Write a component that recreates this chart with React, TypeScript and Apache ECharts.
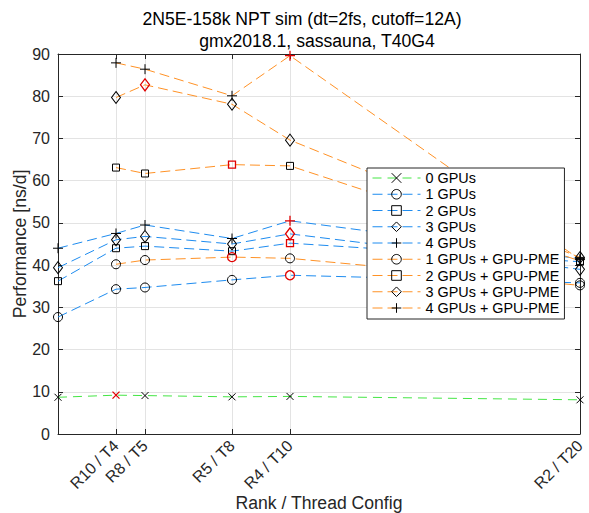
import React, { useEffect, useRef } from "react";
import * as echarts from "echarts";

// x positions (thread count per rank)
const threadsAll = [2, 4, 5, 8, 10, 20];
const threadsPme = [4, 5, 8, 10, 20];
const tickThreads = [4, 5, 8, 10, 20];
const tickLabels = ["R10 / T4", "R8 / T5", "R5 / T8", "R4 / T10", "R2 / T20"];

// Performance [ns/d]
const gpu0 = [8.7, 9.2, 9.1, 8.8, 8.9, 8.1];
const gpu1 = [27.7, 34.3, 34.7, 36.5, 37.6, 35.8];
const gpu2 = [36.2, 44.0, 44.5, 43.3, 45.2, 40.8];
const gpu3 = [39.4, 46.0, 46.8, 45.0, 47.4, 39.0];
const gpu4 = [44.0, 47.5, 49.5, 46.3, 50.5, 41.5];
const pme1 = [40.2, 41.2, 41.9, 41.6, 35.2];
const pme2 = [63.1, 61.7, 63.8, 63.5, 41.0];
const pme3 = [79.7, 82.7, 78.1, 69.6, 41.8];
const pme4 = [87.9, 86.4, 80.1, 89.6, 41.3];

const seriesNames = [
  "0 GPUs",
  "1 GPUs",
  "2 GPUs",
  "3 GPUs",
  "4 GPUs",
  "1 GPUs + GPU-PME",
  "2 GPUs + GPU-PME",
  "3 GPUs + GPU-PME",
  "4 GPUs + GPU-PME",
];

const yTicksMin = 0;
const yTicksMax = 90;
const yTickStep = 10;
const xMin = 2;
const xMax = 20;

const FONT = '"Liberation Sans", Arial, Helvetica, sans-serif';
const GREEN = "#45e645";
const BLUE = "#1e8cf0";
const ORANGE = "#ff9226";
const RED = "#e00000";

const SYM_X = "path://M0,0L10,10M10,0L0,10";
const SYM_PLUS = "path://M5,0L5,10M0,5L10,5";

type Def = {
  name: string;
  xs: number[];
  ys: number[];
  color: string;
  symbol: string;
  size: number | number[];
  dash: number[];
};

const defs: Def[] = [
  { name: seriesNames[0], xs: threadsAll, ys: gpu0, color: GREEN, symbol: SYM_X, size: 7, dash: [9, 6] },
  { name: seriesNames[1], xs: threadsAll, ys: gpu1, color: BLUE, symbol: "circle", size: 9, dash: [10, 5] },
  { name: seriesNames[2], xs: threadsAll, ys: gpu2, color: BLUE, symbol: "rect", size: 7, dash: [10, 5] },
  { name: seriesNames[3], xs: threadsAll, ys: gpu3, color: BLUE, symbol: "diamond", size: [9, 12], dash: [10, 5] },
  { name: seriesNames[4], xs: threadsAll, ys: gpu4, color: BLUE, symbol: SYM_PLUS, size: 10, dash: [10, 5] },
  { name: seriesNames[5], xs: threadsPme, ys: pme1, color: ORANGE, symbol: "circle", size: 9, dash: [10, 5] },
  { name: seriesNames[6], xs: threadsPme, ys: pme2, color: ORANGE, symbol: "rect", size: 7, dash: [10, 5] },
  { name: seriesNames[7], xs: threadsPme, ys: pme3, color: ORANGE, symbol: "diamond", size: [9, 12], dash: [10, 5] },
  { name: seriesNames[8], xs: threadsPme, ys: pme4, color: ORANGE, symbol: SYM_PLUS, size: 10, dash: [10, 5] },
];

export default function App() {
  const ref = useRef<HTMLDivElement>(null);

  useEffect(() => {
    if (!ref.current) return;
    const chart = echarts.init(ref.current, null, { renderer: "svg" });

    const series = defs.map((d) => {
      const best = d.ys.indexOf(Math.max(...d.ys));
      return {
        type: "line",
        name: d.name,
        xAxisIndex: 0,
        yAxisIndex: 0,
        clip: false,
        symbol: d.symbol,
        symbolSize: d.size,
        symbolKeepAspect: true,
        showAllSymbol: true,
        lineStyle: { color: d.color, width: 1, type: d.dash },
        itemStyle: { color: "rgba(0,0,0,0)", borderColor: "#000", borderWidth: 1 },
        emphasis: { disabled: true },
        data: d.xs.map((x, i) =>
          i === best
            ? { value: [x, d.ys[i]], itemStyle: { borderColor: RED, borderWidth: 1.3 } }
            : { value: [x, d.ys[i]] }
        ),
      };
    });

    const axisColor = "#262626";
    const gridColor = "#e3e3e3";

    chart.setOption({
      animation: false,
      backgroundColor: "#fff",
      textStyle: { fontFamily: FONT },
      grid: { left: 58, right: 9, top: 54, bottom: 79, containLabel: false },
      graphic: [
        {
          type: "text",
          x: 302,
          y: 19,
          style: {
            text: "2N5E-158k NPT sim (dt=2fs, cutoff=12A)",
            fontSize: 17.6,
            fontFamily: FONT,
            fill: "#000",
            align: "center",
            verticalAlign: "middle",
          },
        },
        {
          type: "text",
          x: 317,
          y: 41,
          style: {
            text: "gmx2018.1, sassauna, T40G4",
            fontSize: 17.6,
            fontFamily: FONT,
            fill: "#000",
            align: "center",
            verticalAlign: "middle",
          },
        },
        {
          type: "text",
          x: 319,
          y: 503,
          style: {
            text: "Rank / Thread Config",
            fontSize: 17.6,
            fontFamily: FONT,
            fill: axisColor,
            align: "center",
            verticalAlign: "middle",
          },
        },
        {
          type: "text",
          x: 20,
          y: 244,
          rotation: Math.PI / 2,
          style: {
            text: "Performance [ns/d]",
            fontSize: 17.6,
            fontFamily: FONT,
            fill: axisColor,
            align: "center",
            verticalAlign: "middle",
          },
        },
      ],
      legend: {
        orient: "vertical",
        left: 367,
        top: 168,
        itemWidth: 48,
        itemHeight: 12,
        itemGap: 0.25,
        padding: [2, 5, 3, 5],
        borderColor: axisColor,
        borderWidth: 1,
        backgroundColor: "#fff",
        selectedMode: false,
        itemStyle: { borderWidth: 1 },
        lineStyle: { width: 1 },
        textStyle: { fontSize: 14.4, color: "#000", fontFamily: FONT, lineHeight: 16 },
        data: seriesNames,
      },
      xAxis: [
        {
          type: "value",
          position: "bottom",
          min: xMin,
          max: xMax,
          axisLine: { show: true, onZero: false, lineStyle: { color: axisColor, width: 1 } },
          axisTick: { show: true, inside: true, length: 5, customValues: tickThreads, lineStyle: { color: axisColor } },
          axisLabel: {
            show: true,
            customValues: tickThreads,
            rotate: 45,
            margin: 9,
            fontSize: 16,
            color: axisColor,
            fontFamily: FONT,
            formatter: (v: number) => {
              const i = tickThreads.indexOf(v);
              return i >= 0 ? tickLabels[i] : "";
            },
          },
          splitLine: { show: true, lineStyle: { color: gridColor, width: 1 } },
        },
        {
          type: "value",
          position: "top",
          min: xMin,
          max: xMax,
          axisLine: { show: true, onZero: false, lineStyle: { color: axisColor, width: 1 } },
          axisTick: { show: true, inside: true, length: 5, customValues: tickThreads, lineStyle: { color: axisColor } },
          axisLabel: { show: false, customValues: tickThreads },
          splitLine: { show: false },
        },
      ],
      yAxis: [
        {
          type: "value",
          position: "left",
          min: yTicksMin,
          max: yTicksMax,
          interval: yTickStep,
          axisLine: { show: true, onZero: false, lineStyle: { color: axisColor, width: 1 } },
          axisTick: { show: true, inside: true, length: 5, lineStyle: { color: axisColor } },
          axisLabel: { fontSize: 16, color: axisColor, margin: 8, fontFamily: FONT },
          splitLine: { show: true, lineStyle: { color: gridColor, width: 1 } },
        },
        {
          type: "value",
          position: "right",
          min: yTicksMin,
          max: yTicksMax,
          interval: yTickStep,
          axisLine: { show: true, onZero: false, lineStyle: { color: axisColor, width: 1 } },
          axisTick: { show: true, inside: true, length: 5, lineStyle: { color: axisColor } },
          axisLabel: { show: false },
          splitLine: { show: false },
        },
      ],
      series,
    });

    return () => chart.dispose();
  }, []);

  return (
    <div
      ref={ref}
      style={{ position: "fixed", left: 0, top: 0, width: 589, height: 513 }}
    />
  );
}
